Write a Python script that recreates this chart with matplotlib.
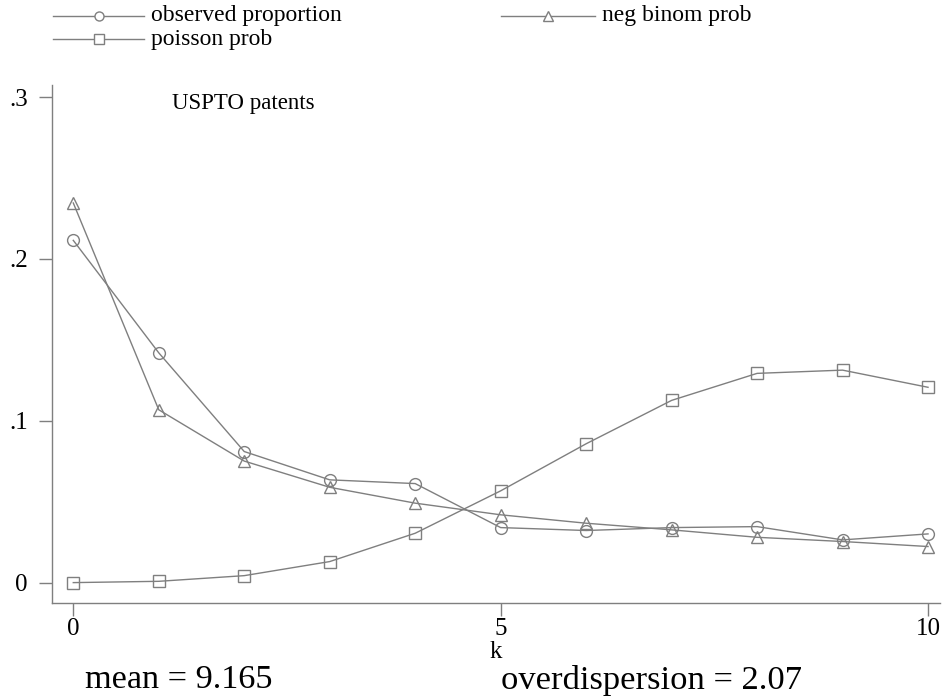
import matplotlib
matplotlib.use("Agg")
import matplotlib.pyplot as plt
from matplotlib.lines import Line2D

k = [0, 1, 2, 3, 4, 5, 6, 7, 8, 9, 10]
observed = [0.2115, 0.142, 0.081, 0.0635, 0.0612, 0.034, 0.0322, 0.034, 0.0346, 0.0264, 0.0301]
negbinom = [0.2346, 0.1068, 0.0751, 0.0589, 0.0491, 0.0419, 0.0367, 0.0326, 0.028, 0.0254, 0.0223]
poisson = [0.0, 0.0008, 0.0043, 0.013, 0.0305, 0.0567, 0.0858, 0.1126, 0.1293, 0.1313, 0.1207]
yticks = [0, 0.1, 0.2, 0.3]
yticklabels = ["0", ".1", ".2", ".3"]
xticks = [0, 5, 10]

W, H = 942, 697
fig = plt.figure(figsize=(W / 100, H / 100), dpi=100)
serif = "Liberation Serif"
gray = "#7f7f7f"

ax = fig.add_axes([52 / W, (H - 603) / H, (940 - 52) / W, (603 - 85) / H])
ax.set_xlim(-0.249, 10.14)
ax.set_ylim(-0.0126, 0.3075)

style = dict(color=gray, lw=1.0, markersize=8.5, markerfacecolor="none",
             markeredgecolor=gray, markeredgewidth=1.0)
ax.plot(k, observed, marker="o", label="observed proportion", **style)
ax.plot(k, negbinom, marker="^", label="neg binom prob", **style)
ax.plot(k, poisson, marker="s", label="poisson prob", **style)

for s in ["top", "right"]:
    ax.spines[s].set_visible(False)
for s in ["left", "bottom"]:
    ax.spines[s].set_color(gray)
    ax.spines[s].set_linewidth(1.0)

ax.set_yticks(yticks)
ax.set_yticklabels(yticklabels, fontfamily=serif, fontsize=18)
ax.set_xticks(xticks)
ax.set_xticklabels([str(v) for v in xticks], fontfamily=serif, fontsize=18)
ax.tick_params(axis="y", direction="out", length=9.5, width=1.0, color=gray, pad=8)
ax.tick_params(axis="x", direction="out", length=9.5, width=1.0, color=gray, pad=1)
ax.set_xlabel("k", fontfamily=serif, fontsize=18, labelpad=1)

fig.text(172 / W, (H - 103) / H, "USPTO patents", fontfamily=serif, fontsize=16.5,
         va="center", ha="left")

# legend (drawn in figure pixels)
def legend_entry(x0, x1, y, marker, label):
    ypos = (H - y) / H
    fig.add_artist(Line2D([x0 / W, x1 / W], [ypos, ypos], color=gray, lw=1.0,
                          transform=fig.transFigure))
    fig.add_artist(Line2D([(x0 + x1) / 2 / W], [ypos], marker=marker, markersize=6.5,
                          markerfacecolor="white", markeredgecolor=gray,
                          markeredgewidth=1.0, transform=fig.transFigure))
    fig.text((x1 + 7) / W, ypos, label, fontfamily=serif, fontsize=17, va="center", ha="left")

h, l = ax.get_legend_handles_labels()
legend_entry(53, 144, 16, "o", l[0])
legend_entry(501, 595, 16, "^", l[1])
legend_entry(53, 144, 39, "s", l[2])

fig.text(85 / W, (H - 680) / H, "mean = 9.165", fontfamily=serif, fontsize=24.7, va="center", ha="left")
fig.text(501 / W, (H - 680) / H, "overdispersion = 2.07", fontfamily=serif, fontsize=24.8, va="center", ha="left")

fig.savefig("out.png", dpi=100)
